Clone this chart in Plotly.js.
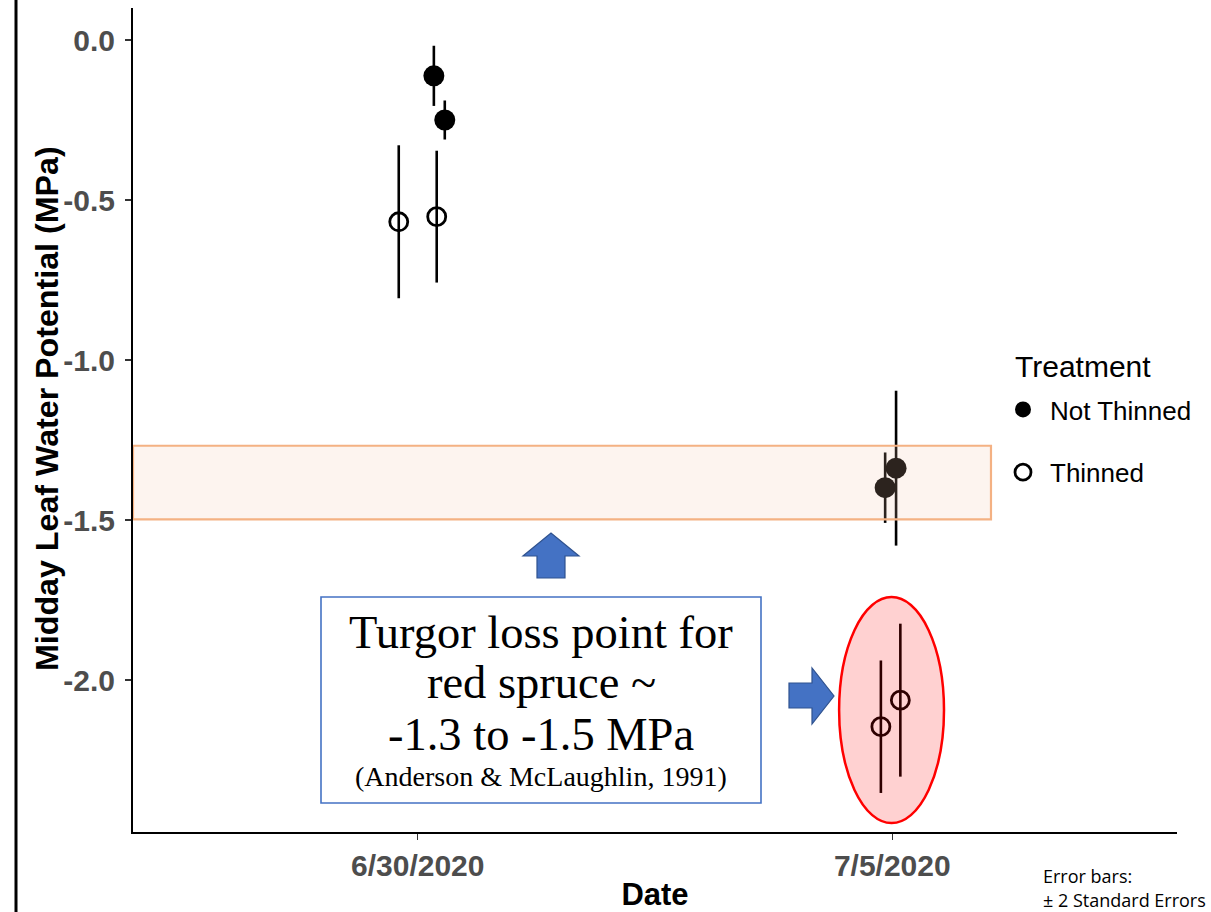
<!DOCTYPE html>
<html>
<head>
<meta charset="utf-8">
<script src="https://cdn.plot.ly/plotly-3.0.1.min.js"></script>
<style>
html,body{margin:0;padding:0;background:#fff;}
#chart{width:1211px;height:912px;}
</style>
</head>
<body>
<div id="chart"></div>
<script>
// ---- Data ----
const dateLabels = ["6/30/2020", "7/5/2020"];
const datePositions = [1, 2];

// Not Thinned (filled circles), jittered x positions
const notThinnedX = [1.034, 1.057, 1.985, 2.008];
const notThinnedY = [-0.112, -0.250, -1.399, -1.338];
const notThinnedErr = [0.094, 0.061, 0.110, 0.242];

// Thinned (open circles), jittered x positions
const thinnedX = [0.960, 1.040, 1.976, 2.017];
const thinnedY = [-0.568, -0.552, -2.146, -2.063];
const thinnedErr = [0.239, 0.206, 0.207, 0.239];

const seriesNames = ["Not Thinned", "Thinned"];
const legendTitle = "Treatment";

// ---- Layout helpers (pixel -> paper) ----
const W = 1211, H = 912;
const L = 133, R = 1177, T = 8, B = 832;
const px = x => (x - L) / (R - L);
const py = y => (B - y) / (B - T);
function poly(pts){
  return 'M ' + pts.map(p => px(p[0]).toFixed(5) + ',' + py(p[1]).toFixed(5)).join(' L ') + ' Z';
}

const traces = [
  {
    type: 'scatter', mode: 'markers', name: seriesNames[0],
    x: notThinnedX, y: notThinnedY,
    legendgroup: 'a',
    marker: {symbol: 'circle', size: 21, color: '#000000'},
    error_y: {type: 'data', array: notThinnedErr, visible: true, color: '#000000', thickness: 2.6, width: 0},
    cliponaxis: false
  },
  {
    type: 'scatter', mode: 'markers', name: seriesNames[1],
    x: thinnedX, y: thinnedY,
    legendgroup: 'b',
    marker: {symbol: 'circle-open', size: 18, color: '#000000', line: {width: 2.8, color: '#000000'}},
    error_y: {type: 'data', array: thinnedErr, visible: true, color: '#000000', thickness: 2.6, width: 0},
    cliponaxis: false
  }
];

const boxBlue = '#4472C4';
const sans = 'Liberation Sans, Arial, sans-serif';
const serif = 'Liberation Serif, serif';
const layout = {
  width: W, height: H,
  margin: {l: L, r: W - R, t: T, b: H - B},
  paper_bgcolor: '#ffffff', plot_bgcolor: '#ffffff',
  showlegend: true,
  font: {family: sans, color: '#000'},
  xaxis: {
    range: [0.4, 2.6], tickvals: datePositions, ticktext: dateLabels,
    showgrid: false, zeroline: false, showline: true, linecolor: '#000', linewidth: 2,
    ticks: 'outside', ticklen: 6, tickwidth: 1.5, tickcolor: '#333',
    tickfont: {family: sans, size: 30, color: '#4d4d4d', weight: 'bold'},
    title: {text: 'Date', font: {family: sans, size: 31, color: '#000', weight: 'bold'}, standoff: 12}
  },
  yaxis: {
    range: [-2.475, 0.1], tickvals: [0, -0.5, -1, -1.5, -2], ticktext: ['0.0', '-0.5', '-1.0', '-1.5', '-2.0'],
    showgrid: false, zeroline: false, showline: true, linecolor: '#000', linewidth: 2,
    ticks: 'outside', ticklen: 6, tickwidth: 1.5, tickcolor: '#333', ticklabelstandoff: 4,
    tickfont: {family: sans, size: 30, color: '#4d4d4d', weight: 'bold'}
  },
  legend: {
    x: px(996), y: py(386), xanchor: 'left', yanchor: 'top',
    bgcolor: 'rgba(0,0,0,0)', borderwidth: 0,
    traceorder: 'grouped', tracegroupgap: 26, itemwidth: 44,
    font: {family: sans, size: 26, color: '#000'}
  },
  shapes: [
    // turgor loss band
    {type: 'rect', xref: 'x', yref: 'y', x0: 0.4, x1: 2.208, y0: -1.268, y1: -1.498,
     fillcolor: 'rgba(244,193,165,0.18)', line: {color: '#F4B183', width: 2.2}, layer: 'above'},
    // ellipse around thinned 7/5 points
    {type: 'circle', xref: 'x', yref: 'y', x0: 1.888, x1: 2.109, y0: -1.741, y1: -2.447,
     fillcolor: 'rgba(255,0,0,0.18)', line: {color: '#ff0000', width: 2.5}, layer: 'above'},
    // text box
    {type: 'rect', xref: 'paper', yref: 'paper', x0: px(321), x1: px(761), y0: py(597), y1: py(803),
     fillcolor: '#ffffff', line: {color: boxBlue, width: 1.6}, layer: 'above'},
    // up arrow
    {type: 'path', xref: 'paper', yref: 'paper', layer: 'above',
     path: poly([[537,578],[537,556],[523,556],[551,533],[579,556],[565,556],[565,578]]),
     fillcolor: boxBlue, line: {color: '#2F528F', width: 1.2}},
    // right arrow
    {type: 'path', xref: 'paper', yref: 'paper', layer: 'above',
     path: poly([[789,683],[812,683],[812,668],[834,696],[812,724],[812,708],[789,708]]),
     fillcolor: boxBlue, line: {color: '#2F528F', width: 1.2}},
    // slide border line at left
    {type: 'line', xref: 'paper', yref: 'paper', x0: px(16), x1: px(16), y0: py(912), y1: py(0),
     line: {color: '#000', width: 3}}
  ],
  annotations: [
    // y axis title
    {xref: 'paper', yref: 'paper', x: px(47), y: py(409), text: 'Midday Leaf Water Potential (MPa)', showarrow: false,
     textangle: -90, xanchor: 'center', yanchor: 'middle', font: {family: sans, size: 32.2, color: '#000', weight: 'bold'}},
    // legend title
    {xref: 'paper', yref: 'paper', x: px(1013), y: py(366), text: legendTitle, showarrow: false,
     xanchor: 'left', yanchor: 'middle', font: {family: sans, size: 30, color: '#000'}},
    {xref: 'paper', yref: 'paper', x: px(541), y: py(632), text: 'Turgor loss point for', showarrow: false,
     xanchor: 'center', yanchor: 'middle', font: {family: serif, size: 46.5, color: '#000'}},
    {xref: 'paper', yref: 'paper', x: px(541), y: py(682), text: 'red spruce ~', showarrow: false,
     xanchor: 'center', yanchor: 'middle', font: {family: serif, size: 46.5, color: '#000'}},
    {xref: 'paper', yref: 'paper', x: px(541), y: py(734), text: '-1.3 to -1.5 MPa', showarrow: false,
     xanchor: 'center', yanchor: 'middle', font: {family: serif, size: 46.5, color: '#000'}},
    {xref: 'paper', yref: 'paper', x: px(541), y: py(776), text: '(Anderson &amp; McLaughlin, 1991)', showarrow: false,
     xanchor: 'center', yanchor: 'middle', font: {family: serif, size: 28, color: '#000'}},
    {xref: 'paper', yref: 'paper', x: px(1041), y: py(876), text: 'Error bars:', showarrow: false,
     xanchor: 'left', yanchor: 'middle', font: {family: 'Open Sans, sans-serif', size: 18, color: '#000'}},
    {xref: 'paper', yref: 'paper', x: px(1041), y: py(900), text: '± 2 Standard Errors', showarrow: false,
     xanchor: 'left', yanchor: 'middle', font: {family: 'Open Sans, sans-serif', size: 18, color: '#000'}}
  ]
};

Plotly.newPlot('chart', traces, layout, {displayModeBar: false, staticPlot: true});
</script>
</body>
</html>
